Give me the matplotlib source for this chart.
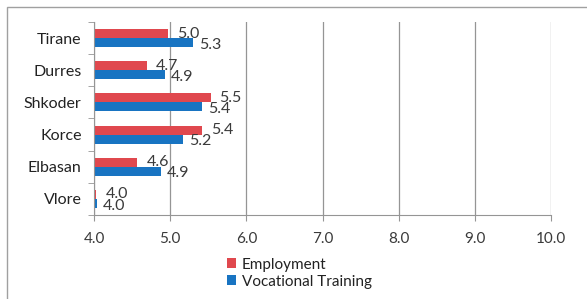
import numpy as np
import matplotlib
matplotlib.use('Agg')
from matplotlib import pyplot as plt
from matplotlib.patches import Rectangle

plt.rcParams['font.family'] = ['Lato', 'DejaVu Sans']

cities = ['Tirane', 'Durres', 'Shkoder', 'Korce', 'Elbasan', 'Vlore']
employment = [4.97, 4.69, 5.53, 5.42, 4.57, 4.03]
vocational = [5.30, 4.93, 5.42, 5.17, 4.88, 4.04]
xticks = [4.0, 5.0, 6.0, 7.0, 8.0, 9.0, 10.0]

red = '#e0484e'
blue = '#1874c2'
grid = '#959595'
txt = '#3a3a3a'

fig = plt.figure(figsize=(5.87, 2.99), dpi=100)
fig.patches.append(Rectangle((7/587, -0.1), 1.2, 1 - 7/299 + 0.1, transform=fig.transFigure,
                             fill=False, edgecolor='#a0a0a0', linewidth=1))
ax = fig.add_axes([94/587, 1 - 215/299, (551-94)/587, (215-22)/299])

y = np.arange(len(cities))
h = 0.28
ax.barh(y - h/2, [e - 4 for e in employment], height=h, left=4, color=red, label='Employment')
ax.barh(y + h/2, [v - 4 for v in vocational], height=h, left=4, color=blue, label='Vocational Training')

for i in range(len(cities)):
    ax.annotate('%.1f' % employment[i], (employment[i], y[i] - h/2), xytext=(6.5, 0),
                textcoords='offset points', ha='left', va='center', fontsize=11.5, color=txt)
    ax.annotate('%.1f' % vocational[i], (vocational[i], y[i] + h/2), xytext=(4.5, -1.5),
                textcoords='offset points', ha='left', va='center', fontsize=11.5, color=txt)

ax.set_xlim(4, 10)
ax.set_ylim(len(cities) - 0.5, -0.5)
ax.set_xticks(xticks)
ax.set_xticklabels(['%.1f' % t for t in xticks], fontsize=11, color=txt)
ax.set_yticks(y)
ax.set_yticklabels(cities, fontsize=11.5, color='#222222')
ax.set_yticks(np.arange(-0.5, len(cities)), minor=True)
ax.tick_params(axis='y', which='major', length=0, pad=9)
ax.tick_params(axis='y', which='minor', length=4, color=grid, direction='out')
ax.tick_params(axis='x', length=4, color=grid, direction='out', pad=8)
ax.grid(axis='x', color=grid, linewidth=0.9)
ax.set_axisbelow(True)
for s in ['top', 'right']:
    ax.spines[s].set_visible(False)
for s in ['left', 'bottom']:
    ax.spines[s].set_color(grid)

ax.legend(loc='upper left', bbox_to_anchor=(219/587, 1 - 250/299), bbox_transform=fig.transFigure,
          frameon=False, fontsize=11, handlelength=0.6, handleheight=0.6, handletextpad=0.4,
          labelspacing=0.2, borderpad=0, labelcolor='#222222')

fig.savefig('out.png', dpi=100)
